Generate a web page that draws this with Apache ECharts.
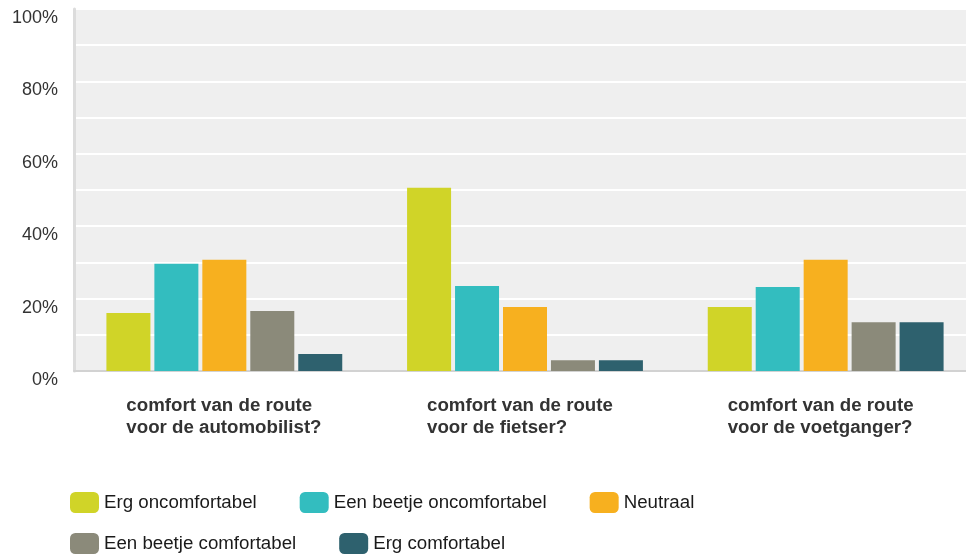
<!DOCTYPE html>
<html>
<head>
<meta charset="utf-8">
<script src="https://cdn.jsdelivr.net/npm/echarts@6/dist/echarts.min.js"></script>
<style>
html,body{margin:0;padding:0;background:#fff;overflow:hidden;width:966px;height:556px;}
#chart{width:976px;height:556px;}
</style>
</head>
<body>
<div id="chart"></div>
<script>
const categories = [
  'comfort van de route\nvoor de automobilist?',
  'comfort van de route\nvoor de fietser?',
  'comfort van de route\nvoor de voetganger?'
];
const seriesNames = ['Erg oncomfortabel', 'Een beetje oncomfortabel', 'Neutraal', 'Een beetje comfortabel', 'Erg comfortabel'];
const ergOncomfortabel = [16.0, 50.6, 17.7];
const beetjeOncomfortabel = [29.6, 23.5, 23.2];
const neutraal = [30.7, 17.7, 30.7];
const beetjeComfortabel = [16.6, 3.0, 13.5];
const ergComfortabel = [4.7, 3.0, 13.5];
const yTicks = [0, 20, 40, 60, 80, 100];

const colors = ['#d0d428', '#33bdbf', '#f7b01f', '#8b8a7a', '#2e616e'];
const values = [ergOncomfortabel, beetjeOncomfortabel, neutraal, beetjeComfortabel, ergComfortabel];
const FONT = '"Liberation Sans", Arial, Helvetica, sans-serif';

const chart = echarts.init(document.getElementById('chart'));
chart.setOption({
  animation: false,
  textStyle: { fontFamily: FONT },
  color: colors,
  grid: {
    left: 74, right: 0, top: 9, bottom: 185,
    show: true, backgroundColor: '#efefef', borderWidth: 0
  },
  legend: [
    {
      data: seriesNames.slice(0, 3),
      left: 70, top: 492, padding: 0,
      itemWidth: 29, itemHeight: 21, itemGap: 43,
      icon: 'roundRect',
      textStyle: { fontSize: 18.7, color: '#1a1a1a', fontFamily: FONT }
    },
    {
      data: seriesNames.slice(3),
      left: 70, top: 533, padding: 0,
      itemWidth: 29, itemHeight: 21, itemGap: 43,
      icon: 'roundRect',
      textStyle: { fontSize: 18.7, color: '#1a1a1a', fontFamily: FONT }
    }
  ],
  xAxis: {
    type: 'category',
    data: categories,
    axisTick: { show: false },
    axisLine: { show: true, lineStyle: { color: '#d2d2d2', width: 2 } },
    axisLabel: {
      margin: 24,
      formatter: function (v) {
        return v.split('\n').map(s => '{a|' + s + '}').join('\n');
      },
      rich: {
        a: {
          width: 196, align: 'left',
          fontSize: 18.7, fontWeight: 'bold', color: '#333333',
          lineHeight: 22, fontFamily: FONT
        }
      }
    },
    splitLine: { show: false }
  },
  yAxis: {
    type: 'value',
    min: 0, max: 100, interval: 10,
    axisLine: { show: true, lineStyle: { color: '#dcdcdc', width: 3 } },
    axisTick: { show: false },
    axisLabel: {
      margin: 16,
      verticalAlign: 'top',
      fontSize: 18, color: '#333333',
      formatter: function (v) { return yTicks.indexOf(v) >= 0 ? v + '%' : ''; }
    },
    splitLine: { show: true, lineStyle: { color: '#ffffff', width: 2 } }
  },
  series: seriesNames.map((name, i) => ({
    name: name,
    type: 'bar',
    data: values[i],
    barWidth: 44,
    barGap: '9%',
    itemStyle: { color: colors[i] }
  }))
});
</script>
</body>
</html>
